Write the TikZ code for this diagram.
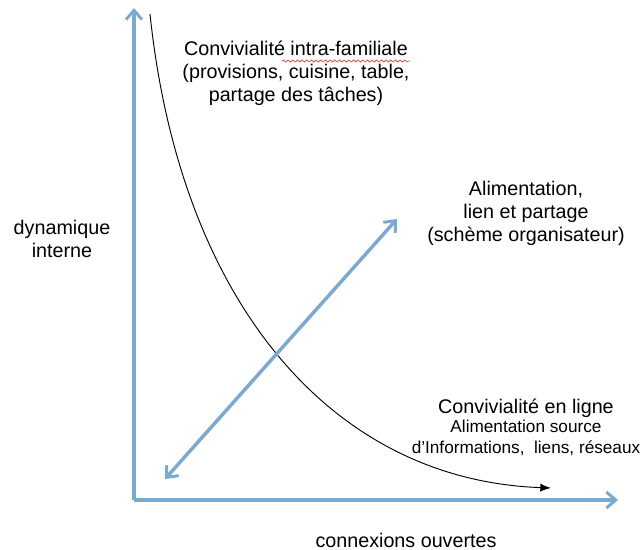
\documentclass[tikz,border=0pt]{standalone}
\usepackage{fontspec}
\setmainfont{Liberation Sans}
\usepackage{tikz}
\usetikzlibrary{arrows,arrows.meta,calc,positioning,decorations.pathmorphing}

\definecolor{axisblue}{RGB}{122,170,212}

\begin{document}
\begin{tikzpicture}[>=latex,x=0.75pt,y=-0.75pt,
	every node/.style={align=center,inner sep=0pt,font=\fontsize{14.8}{17.3}\selectfont},
	axis/.style={axisblue,line width=2.6pt,-{Straight Barb[length=7pt,width=12pt,line width=2.2pt]}},
	twoway/.style={axisblue,line width=2.6pt,{Straight Barb[length=7pt,width=12pt,line width=2.2pt]}-{Straight Barb[length=7pt,width=12pt,line width=2.2pt]}}]
	\useasboundingbox (0,0) rectangle (640,550);

	% axes
	\coordinate (origin) at (134,500);
	\coordinate (ytip) at (134,8);
	\coordinate (xtip) at (618,500);
	\draw[axis] (origin) -- (ytip);
	\draw[axis] (origin) -- (xtip);

	% curve
	\coordinate (cstart) at (150,14);
	\coordinate (cend) at (551,488);
	\draw[black,line width=0.7pt,-{Latex[length=8pt,width=6pt]}] (cstart) .. controls (180,300) and (330,480) .. (cend);

	% diagonal
	\coordinate (dlow) at (165,479);
	\coordinate (dhigh) at (397,219);
	\draw[twoway] (dlow) -- (dhigh);

	% labels
	\node (famille) at (296,73) {Convivialité intra-familiale\\(provisions, cuisine, table,\\partage des tâches)};
	\draw[red!80,line width=0.5pt,decorate,decoration={snake,amplitude=0.8pt,segment length=3.5pt}] (282,61) -- (410,61);
	\node (schema) at (526,213) {Alimentation,\\lien et partage\\(schème organisateur)};
	\node (enligne) at (526,408) {Convivialité en ligne};
	\node[below=2pt of enligne,font=\fontsize{12.9}{15.5}\selectfont] (source) {Alimentation source\\d’Informations,~ liens, réseaux};
	\node (dyn) at (62,239) {dynamique\\interne};
	\node (conn) at (406,540) {connexions ouvertes};
\end{tikzpicture}
\end{document}
